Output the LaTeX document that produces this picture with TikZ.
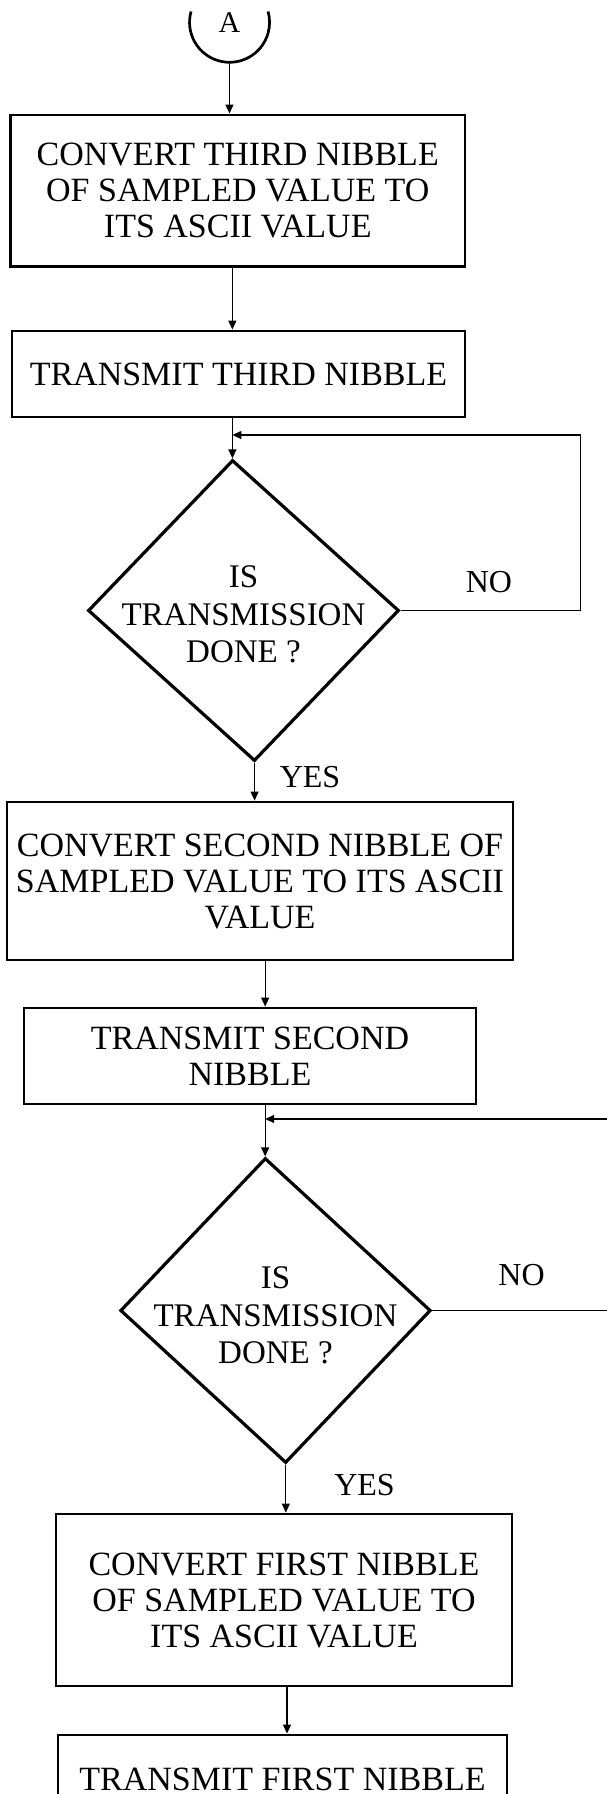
\documentclass[tikz,border=0pt]{standalone}
\usepackage{fontspec}
\setmainfont{Liberation Serif}
\usetikzlibrary{arrows.meta,shapes.geometric}
\begin{document}
\begin{tikzpicture}[x=1pt,y=1pt,
  boxnode/.style={draw, line width=2.9pt, inner sep=0pt, align=center, font={\fontsize{34}{36}\selectfont}},
  dia/.style={diamond, draw, line width=3.2pt, inner sep=0pt, transform shape},
  dtext/.style={align=center, inner sep=0pt, font={\fontsize{33}{37.5}\selectfont}},
  lbl/.style={inner sep=0pt, font={\fontsize{32}{36}\selectfont}},
  conn/.style={line width=1.2pt},
  arr/.style={conn, -{Triangle[length=9pt,width=8pt]}}]
\useasboundingbox (0,0) rectangle (607,-1794);

% connector A
\node[circle, minimum size=80pt, inner sep=0pt, outer sep=0pt, font={\fontsize{30}{32}\selectfont}] (A) at (229.5,-22.5) {A};
\draw[line width=2.7pt] (A.164.3) arc[start angle=164.3, end angle=375.7, radius=40pt];

% boxes
\node[boxnode, minimum width=454.5pt, minimum height=151.7pt] (b1) at (237.75,-190.8)
  {CONVERT THIRD NIBBLE\\OF SAMPLED VALUE TO\\ITS ASCII VALUE};
\node[boxnode, minimum width=453pt, minimum height=86pt] (b2) at (238.5,-374)
  {TRANSMIT THIRD NIBBLE};

\begin{scope}[shift={(243.5,-610.5)}, xslant=-0.073]
  \node[dia, minimum width=311pt, minimum height=301pt] (d1) at (0,0) {};
\end{scope}
\node[dtext] (d1t) at ([yshift=-4pt]d1.center) {IS\\TRANSMISSION\\DONE ?};

\node[boxnode, minimum width=506pt, minimum height=158pt] (b3) at (260,-881)
  {CONVERT SECOND NIBBLE OF\\SAMPLED VALUE TO ITS ASCII\\VALUE};
\node[boxnode, minimum width=452pt, minimum height=96pt] (b4) at (250,-1056)
  {TRANSMIT SECOND\\NIBBLE};

\begin{scope}[shift={(275.5,-1310.5)}, xslant=-0.067]
  \node[dia, minimum width=310.5pt, minimum height=305pt] (d2) at (0,0) {};
\end{scope}
\node[dtext] (d2t) at ([yshift=-5pt]d2.center) {IS\\TRANSMISSION\\DONE ?};

\node[boxnode, minimum width=456pt, minimum height=172pt] (b5) at (284,-1600)
  {CONVERT FIRST NIBBLE\\OF SAMPLED VALUE TO\\ITS ASCII VALUE};
\node[boxnode, minimum width=449pt, minimum height=88pt] (b6) at (282.5,-1779)
  {TRANSMIT FIRST NIBBLE};

% labels
\node[lbl] (no1) at (489,-582) {NO};
\node[lbl] (yes1) at (310,-777.5) {YES};
\node[lbl] (no2) at (521.5,-1275.5) {NO};
\node[lbl] (yes2) at (364.5,-1485.5) {YES};

% connectors
\draw[arr] (A.south) -- (A.south |- b1.north);
\draw[arr] (b1.south -| d1.north) -- (b2.north -| d1.north);
\draw[arr] (b2.south -| d1.north) -- (d1.north);
\coordinate (l1) at (580.5,-435);
\draw[arr] (d1.east) -| (l1) -- (l1 -| d1.north);
\draw[arr] (d1.south) -- (d1.south |- b3.north);
\draw[arr] (b3.south -| d2.north) -- (b4.north -| d2.north);
\draw[arr] (b4.south -| d2.north) -- (d2.north);
\coordinate (r2a) at (607,-1119);
\draw[arr] (r2a) -- (r2a -| d2.north);
\draw[conn] (d2.east) -- (d2.east -| r2a);
\draw[arr] (d2.south) -- (d2.south |- b5.north);
\coordinate (c56) at (287,-1700);
\draw[arr] (b5.south -| c56) -- (b6.north -| c56);
\end{tikzpicture}
\end{document}
